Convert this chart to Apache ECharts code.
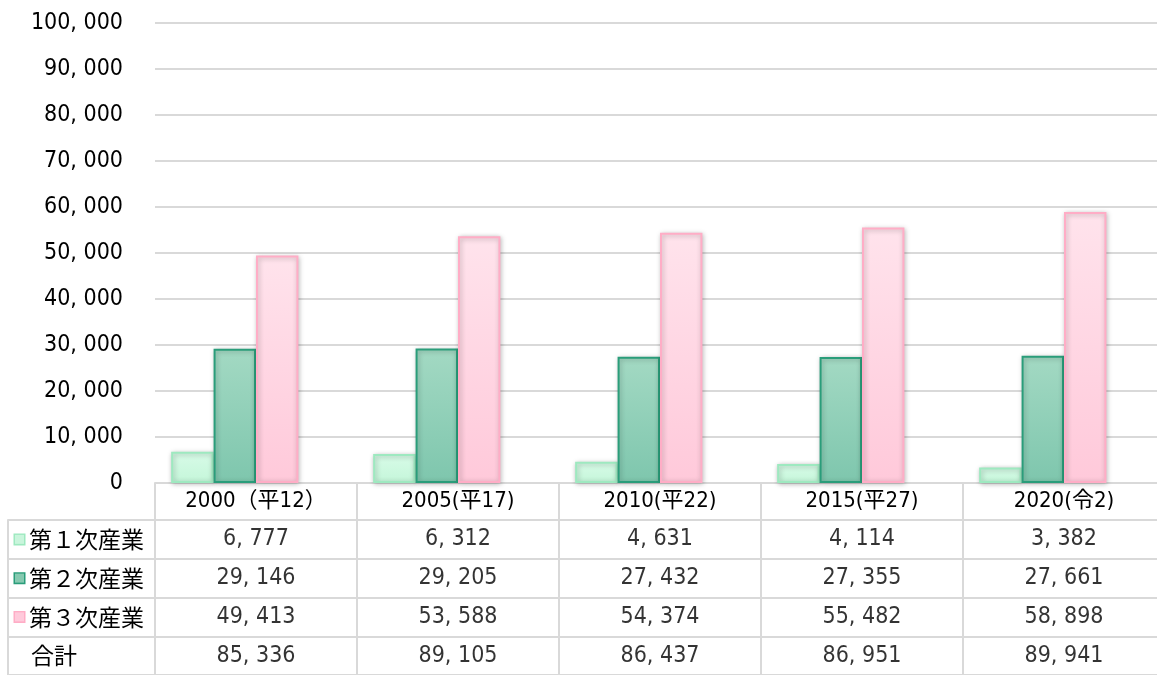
<!DOCTYPE html>
<html>
<head>
<meta charset="utf-8">
<script src="https://cdn.jsdelivr.net/npm/echarts@6/dist/echarts.min.js"></script>
<style>html,body{margin:0;padding:0;background:#fff;overflow:hidden;}#c{width:1165px;height:675px;}</style>
</head>
<body>
<div id="c"></div>
<script>
const categories = ['2000（平12）', '2005(平17)', '2010(平22)', '2015(平27)', '2020(令2)'];
const primary = [6777, 6312, 4631, 4114, 3382];
const secondary = [29146, 29205, 27432, 27355, 27661];
const tertiary = [49413, 53588, 54374, 55482, 58898];
const totals = [85336, 89105, 86437, 86951, 89941];
const seriesNames = ['第１次産業', '第２次産業', '第３次産業', '合計'];
const rowNames = ['第１次産業', '第２次産業', '第３次産業', '合計'];
const yTicks = { min: 0, max: 100000, interval: 10000 };

const FONT = "'Liberation Sans Narrow', 'DejaVu Sans Condensed', 'Noto Sans CJK JP', sans-serif";
const GRID_LINE = '#d9d9d9';
const TEXT = '#000';
const fmt = v => Number(v).toLocaleString('en-US').replace(/,/g, ', ');

const rows = [primary, secondary, tertiary, totals];
const tableData = [];
rows.forEach((arr, r) => arr.forEach((v, c) => tableData.push([c, r, v])));

function grad(top, bottom) {
  return new echarts.graphic.LinearGradient(0, 0, 0, 1, [
    { offset: 0, color: top }, { offset: 1, color: bottom }
  ]);
}
const styles = [
  { fill: grad('#d8fbe8', '#c4f6d9'), border: '#9ee9c0', sq: '#c9f5dc' },
  { fill: grad('#a3d9c3', '#7ec6ad'), border: '#2a9d7a', sq: '#86c9b0' },
  { fill: grad('#ffe3ec', '#ffc9da'), border: '#ffadc6', sq: '#ffcadb' }
];

const chart = echarts.init(document.getElementById('c'), null, { renderer: 'canvas' });
chart.setOption({
  animation: false,
  textStyle: { fontFamily: FONT },
  grid: [
    { left: 155, right: 0, top: 22.7, bottom: 192, containLabel: false },
    { left: 155, right: 0, top: 520, height: 160, containLabel: false }
  ],
  xAxis: [
    {
      type: 'category', gridIndex: 0, data: categories,
      axisLine: { lineStyle: { color: GRID_LINE, width: 2 } },
      axisTick: { show: true, interval: 0, length: 37, lineStyle: { color: GRID_LINE, width: 2 } },
      axisLabel: { interval: 0, margin: 0, lineHeight: 37, fontSize: 22, color: TEXT, fontFamily: FONT }
    },
    {
      type: 'category', gridIndex: 1, data: categories, position: 'top',
      axisLine: { show: true, lineStyle: { color: GRID_LINE, width: 2 } },
      axisTick: { show: false }, axisLabel: { show: false },
      splitLine: { show: true, interval: 0, lineStyle: { color: GRID_LINE, width: 2 } }
    }
  ],
  yAxis: [
    {
      type: 'value', gridIndex: 0, min: yTicks.min, max: yTicks.max, interval: yTicks.interval,
      axisLine: { show: false }, axisTick: { show: false },
      axisLabel: { margin: 32, fontSize: 23, color: TEXT, fontFamily: FONT, formatter: v => fmt(v) },
      splitLine: { lineStyle: { color: GRID_LINE, width: 2 } }
    },
    {
      type: 'category', gridIndex: 1, data: rowNames, inverse: true,
      axisLine: { show: true, lineStyle: { color: GRID_LINE, width: 2 } },
      axisTick: { show: true, interval: 0, length: 147, lineStyle: { color: GRID_LINE, width: 2 } },
      splitLine: { show: true, interval: 0, lineStyle: { color: GRID_LINE, width: 2 } },
      axisLabel: {
        interval: 0, align: 'left', margin: 140, fontSize: 23, color: TEXT, fontFamily: FONT,
        formatter: (v, i) => (i < 3 ? '{s' + i + '|}' : '{e|}') + '{t|' + v + '}',
        rich: {
          s0: { width: 9, height: 9, backgroundColor: styles[0].sq, borderColor: styles[0].border, borderWidth: 1.5 },
          s1: { width: 9, height: 9, backgroundColor: styles[1].sq, borderColor: styles[1].border, borderWidth: 1.5 },
          s2: { width: 9, height: 9, backgroundColor: styles[2].sq, borderColor: styles[2].border, borderWidth: 1.5 },
          e: { width: 11, height: 9 },
          t: { fontSize: 23, color: TEXT, padding: [0, 0, 0, 5], fontFamily: "'Noto Sans CJK JP', sans-serif" }
        }
      }
    },
    {
      type: 'category', gridIndex: 1, data: rowNames, inverse: true, position: 'left', offset: 147,
      axisLine: { show: true, lineStyle: { color: GRID_LINE, width: 2 } },
      axisTick: { show: false }, axisLabel: { show: false }, splitLine: { show: false }
    }
  ],
  series: [
    ...[primary, secondary, tertiary].map((d, i) => ({
      type: 'bar', name: seriesNames[i], xAxisIndex: 0, yAxisIndex: 0, data: d,
      barGap: '0%', barCategoryGap: '16%',
      itemStyle: {
        color: styles[i].fill, borderColor: styles[i].border, borderWidth: 2,
        shadowBlur: 5, shadowColor: 'rgba(0,0,0,0.28)', shadowOffsetX: 1, shadowOffsetY: 1
      },
      silent: true
    })),
    {
      type: 'bar', name: seriesNames[3], xAxisIndex: 0, yAxisIndex: 0, data: totals,
      barGap: '0%', barCategoryGap: '16%',
      itemStyle: { color: 'rgba(0,0,0,0)', borderWidth: 0 }, silent: true
    },
    {
      type: 'scatter', xAxisIndex: 1, yAxisIndex: 1, data: tableData,
      symbolSize: 1, itemStyle: { color: 'rgba(0,0,0,0)' }, silent: true,
      label: { show: true, position: 'inside', fontSize: 23, color: TEXT, fontFamily: FONT,
               formatter: p => fmt(p.value[2]) }
    }
  ]
});
</script>
</body>
</html>
